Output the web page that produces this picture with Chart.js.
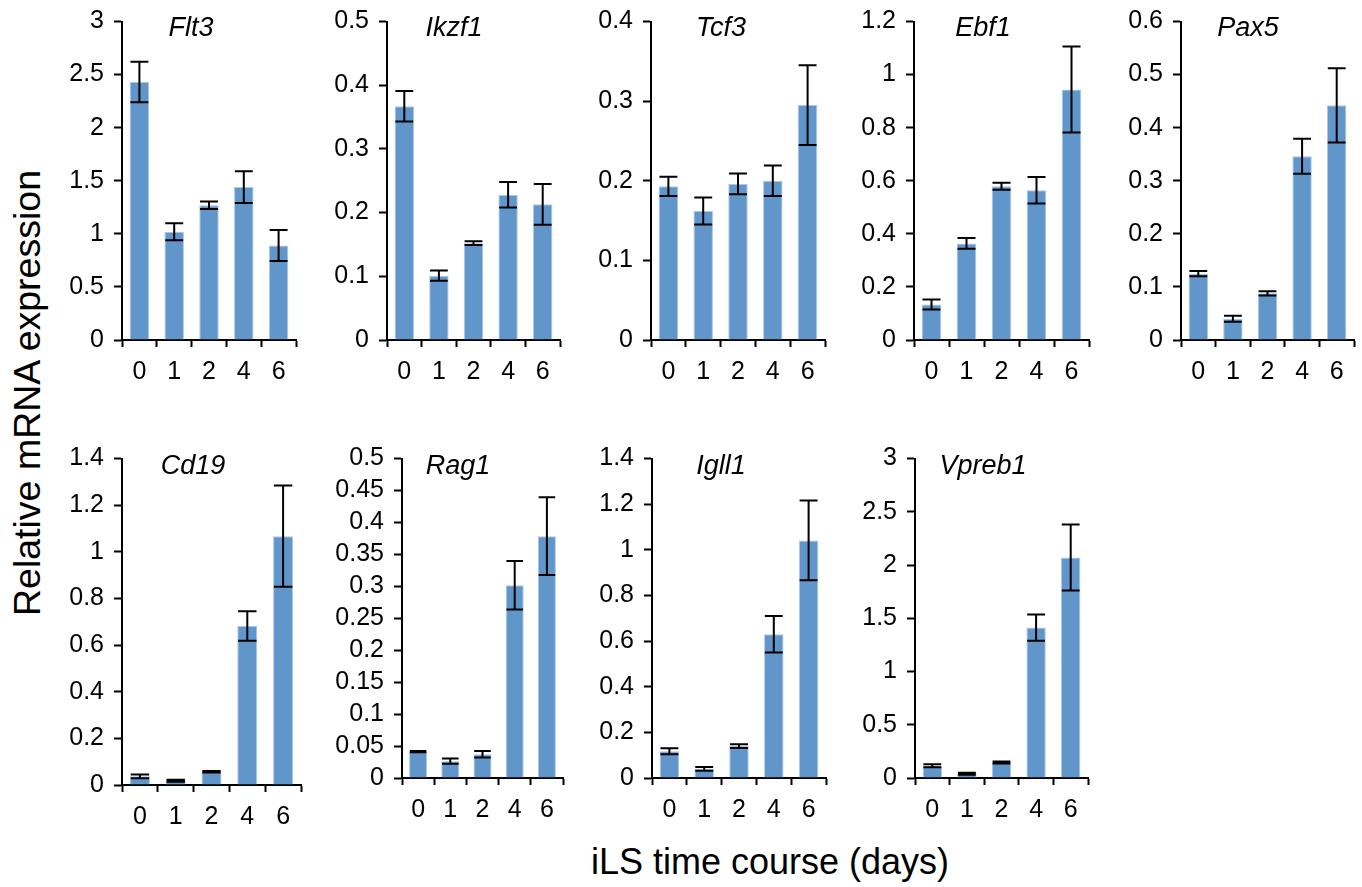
<!DOCTYPE html>
<html>
<head>
<meta charset="utf-8">
<script src="https://cdn.jsdelivr.net/npm/chart.js@4.4.1/dist/chart.umd.min.js"></script>
<style>
  html, body { margin:0; padding:0; background:#fff; width:1362px; height:887px; overflow:hidden;
    font-family:"Liberation Sans", Arial, Helvetica, sans-serif; color:#000; }
  .panel { position:absolute; }
  .gene { position:absolute; font-style:italic; font-size:27px; line-height:1; white-space:nowrap; transform:translateX(-50%); }
  #ytitle { position:absolute; left:28px; top:393px; font-size:37.5px; line-height:1; white-space:nowrap;
    transform:translate(-50%,-50%) rotate(-90deg); }
  #xtitle { position:absolute; left:770px; top:844px; font-size:36px; line-height:1; white-space:nowrap;
    transform:translateX(-50%); }
</style>
</head>
<body>
<div id="ytitle">Relative mRNA expression</div>
<div id="xtitle">iLS time course (days)</div>
<script>
// ---- data ----
const days = ['0', '1', '2', '4', '6'];
const geneNames = ['Flt3', 'Ikzf1', 'Tcf3', 'Ebf1', 'Pax5', 'Cd19', 'Rag1', 'Igll1', 'Vpreb1'];

const flt3Mean  = [2.43, 1.02, 1.27, 1.44, 0.89];
const flt3Err   = [0.19, 0.08, 0.035, 0.15, 0.145];
const ikzf1Mean = [0.367, 0.101, 0.152, 0.228, 0.213];
const ikzf1Err  = [0.024, 0.008, 0.003, 0.020, 0.032];
const tcf3Mean  = [0.193, 0.162, 0.196, 0.200, 0.295];
const tcf3Err   = [0.012, 0.017, 0.013, 0.019, 0.050];
const ebf1Mean  = [0.134, 0.364, 0.579, 0.564, 0.944];
const ebf1Err   = [0.019, 0.020, 0.013, 0.050, 0.162];
const pax5Mean  = [0.125, 0.040, 0.088, 0.346, 0.442];
const pax5Err   = [0.005, 0.0056, 0.004, 0.033, 0.070];
const cd19Mean  = [0.037, 0.018, 0.057, 0.682, 1.067];
const cd19Err   = [0.008, 0.004, 0.003, 0.063, 0.217];
const rag1Mean  = [0.0414, 0.0264, 0.0372, 0.3015, 0.3785];
const rag1Err   = [0.001, 0.004, 0.005, 0.038, 0.061];
const igll1Mean = [0.117, 0.040, 0.140, 0.630, 1.041];
const igll1Err  = [0.013, 0.008, 0.008, 0.080, 0.175];
const vpreb1Mean = [0.115, 0.040, 0.146, 1.412, 2.070];
const vpreb1Err  = [0.015, 0.010, 0.010, 0.124, 0.310];

const yMaxes = [3, 0.5, 0.4, 1.2, 0.6, 1.4, 0.5, 1.4, 3];
const ySteps = [0.5, 0.1, 0.1, 0.2, 0.1, 0.2, 0.05, 0.2, 0.5];

const means = [flt3Mean, ikzf1Mean, tcf3Mean, ebf1Mean, pax5Mean, cd19Mean, rag1Mean, igll1Mean, vpreb1Mean];
const errs  = [flt3Err, ikzf1Err, tcf3Err, ebf1Err, pax5Err, cd19Err, rag1Err, igll1Err, vpreb1Err];

// ---- layout (plot areas) ----
const areas = [
  {l:122, r:296, t:19, b:340}, {l:387, r:560, t:19, b:340}, {l:651, r:825, t:19, b:340},
  {l:914, r:1089, t:19, b:340}, {l:1181, r:1354, t:19, b:340},
  {l:122, r:301, t:456, b:785}, {l:402, r:563, t:456, b:778}, {l:652, r:826, t:456, b:778},
  {l:915, r:1088, t:456, b:778}
];
const titlePos = [
  {x:191, y:14}, {x:454, y:14}, {x:721, y:14}, {x:983, y:14}, {x:1248, y:14},
  {x:193, y:452}, {x:458, y:452}, {x:721, y:452}, {x:983, y:452}
];

const YW = 72, PT = 20, PR = 8, XH = 42;
const FONT = '"Liberation Sans", Arial, Helvetica, sans-serif';

const errorBars = {
  id: 'errorBars',
  afterDatasetsDraw(chart) {
    const ctx = chart.ctx;
    const ds = chart.data.datasets[0];
    const meta = chart.getDatasetMeta(0);
    const ys = chart.scales.y;
    ctx.save();
    ctx.strokeStyle = '#000';
    ctx.lineWidth = 2;
    meta.data.forEach((bar, i) => {
      const v = ds.data[i], e = ds.errors[i];
      const x = bar.x;
      const yT = ys.getPixelForValue(v + e);
      const yB = ys.getPixelForValue(Math.max(0, v - e));
      const hw = bar.width * 0.46;
      ctx.beginPath();
      ctx.moveTo(x, yT); ctx.lineTo(x, yB);
      ctx.moveTo(x - hw, yT); ctx.lineTo(x + hw, yT);
      ctx.moveTo(x - hw, yB); ctx.lineTo(x + hw, yB);
      ctx.stroke();
    });
    ctx.restore();
  }
};

geneNames.forEach((name, k) => {
  const a = areas[k];
  const w = YW + (a.r - a.l) + PR;
  const h = PT + (a.b - a.t) + XH;
  const div = document.createElement('div');
  div.className = 'panel';
  div.style.left = (a.l - YW) + 'px';
  div.style.top = (a.t - PT) + 'px';
  div.style.width = w + 'px';
  div.style.height = h + 'px';
  const cv = document.createElement('canvas');
  cv.width = w; cv.height = h;
  cv.style.width = w + 'px'; cv.style.height = h + 'px';
  div.appendChild(cv);
  document.body.appendChild(div);

  const t = document.createElement('div');
  t.className = 'gene';
  t.textContent = name;
  t.style.left = titlePos[k].x + 'px';
  t.style.top = titlePos[k].y + 'px';
  document.body.appendChild(t);

  new Chart(cv, {
    type: 'bar',
    data: {
      labels: days,
      datasets: [{
        data: means[k],
        errors: errs[k],
        backgroundColor: 'rgb(97,150,203)',
        borderColor: 'rgb(170,199,230)',
        borderWidth: 1,
        barPercentage: 0.56,
        categoryPercentage: 1
      }]
    },
    options: {
      responsive: false,
      animation: false,
      devicePixelRatio: 1,
      layout: { padding: { top: PT, right: PR, left: 0, bottom: 0 } },
      plugins: { legend: { display: false }, tooltip: { enabled: false }, title: { display: false } },
      scales: {
        x: {
          type: 'category',
          offset: true,
          grid: { display: true, offset: true, drawOnChartArea: false, drawTicks: true,
                  tickLength: 7, tickWidth: 2, color: '#000', tickColor: '#000' },
          border: { display: true, color: '#000', width: 2 },
          ticks: { color: '#000', font: { family: FONT, size: 25 }, padding: 10, maxRotation: 0, autoSkip: false },
          afterFit: s => { s.height = XH; }
        },
        y: {
          min: 0,
          max: yMaxes[k],
          grid: { display: true, drawOnChartArea: false, drawTicks: true,
                  tickLength: 8, tickWidth: 2, color: '#000', tickColor: '#000' },
          border: { display: true, color: '#000', width: 2 },
          ticks: { stepSize: ySteps[k], color: '#000', font: { family: FONT, size: 25, lineHeight: 1 },
                   padding: 10, autoSkip: false, maxTicksLimit: 30,
                   callback: v => String(+Number(v).toFixed(3)) },
          afterFit: s => { s.width = YW; }
        }
      }
    },
    plugins: [errorBars]
  });
});
</script>
</body>
</html>
